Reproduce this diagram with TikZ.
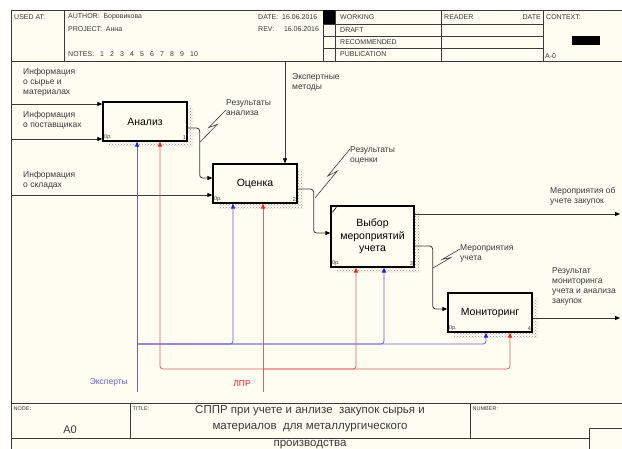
\documentclass[tikz,border=0pt]{standalone}
\usepackage{fontspec}
\setmainfont{Liberation Sans}
\usetikzlibrary{arrows.meta,calc,patterns,shadows}

\definecolor{paper}{HTML}{FFFCF2}
\definecolor{ink}{HTML}{3A3A3A}
\definecolor{expline}{HTML}{6565CF}
\definecolor{exptip}{HTML}{1E1EE6}
\definecolor{lprline}{HTML}{D86464}
\definecolor{lprtip}{HTML}{F01E1E}

\tikzset{
  proc/.style={draw=black, line width=1.3pt, fill=paper, align=center,
    minimum width=84pt, minimum height=39pt, inner sep=1pt,
    font=\fontsize{10.5}{12.5}\selectfont,
    general shadow={pattern=crosshatch dots, pattern color=gray!80,
      shadow xshift=6pt, shadow yshift=-6pt}},
  flow/.style={draw=ink, line width=0.8pt, rounded corners=3pt,
    -{Triangle[length=5pt,width=4pt,color=black]}},
  eflow/.style={flow, draw=expline, -{Triangle[length=5pt,width=4pt,color=exptip]}},
  dflow/.style={flow, draw=lprline, -{Triangle[length=5pt,width=4pt,color=lprtip]}},
  zig/.style={draw=ink, line width=0.6pt,
    to path={-- ($(\tikztostart)!0.55!(\tikztotarget)+(3,0)$)
             -- ($(\tikztostart)!0.45!(\tikztotarget)-(3,0)$)
             -- (\tikztotarget)}},
  lbl/.style={anchor=north west, inner sep=0pt, align=left, text=ink,
    font=\fontsize{8.5}{10}\selectfont},
  hdr/.style={anchor=west, inner sep=0pt, text=ink, font=\fontsize{7}{8}\selectfont},
  tiny/.style={inner sep=1.5pt, text=ink, font=\fontsize{5.5}{6}\selectfont},
  frame/.style={draw=ink, line width=0.8pt}
}

\begin{document}
\begin{tikzpicture}[x=1pt,y=-1pt]
\useasboundingbox (0,0) rectangle (622,449);
\fill[white] (0,0) rectangle (622,449);
\fill[paper] (11,10) rectangle (622,449);

% header
\draw[frame] (622,10) -- (11,10) -- (11,449);
\draw[frame] (11,61) -- (622,61);
\foreach \xx in {64,323,335,441,543} \draw[frame] (\xx,10) -- (\xx,61);
\foreach \yy in {24,36,48} \draw[frame] (323,\yy) -- (543,\yy);
\fill[black] (323,10) rectangle (335,24);
\fill[black] (572,36) rectangle (600,45);
\node[hdr] (usedat) at (14,17) {USED AT:};
\node[hdr] (author) at (68,17) {AUTHOR:\ \ Боровикова};
\node[hdr] (project) at (68,29) {PROJECT:\ \ Анна};
\node[hdr] (notes) at (68,54) {NOTES:};
\foreach \n in {1,...,10} \node[hdr] (note\n) at (90+10*\n,54) {\n};
\node[hdr] (date) at (258,17) {DATE:\ \ 16.06.2016};
\node[hdr] (rev) at (258,29) {REV:\ \ \ \ \ 16.06.2016};
\node[hdr] (working) at (340,17) {WORKING};
\node[hdr] (draft) at (340,30) {DRAFT};
\node[hdr] (recom) at (340,42) {RECOMMENDED};
\node[hdr] (public) at (340,54) {PUBLICATION};
\node[hdr] (reader) at (444,17) {READER};
\node[hdr, anchor=east] (rdate) at (541,17) {DATE};
\node[hdr] (context) at (546,17) {CONTEXT:};
\node[hdr] (ctxnode) at (545,56) {A-0};

% footer
\draw[frame] (11,403) -- (622,403);
\draw[frame] (11,438) -- (589,438);
\draw[frame] (130,403) -- (130,438);
\draw[frame] (470,403) -- (470,438);
\draw[frame] (589,449) -- (589,428) -- (622,428);
\node[tiny, anchor=west] (nodelbl) at (12,409) {NODE:};
\node[text=ink, font=\fontsize{11}{12}\selectfont] (nodeno) at (70,430) {A0};
\node[tiny, anchor=west] (titlelbl) at (131,409) {TITLE:};
\node[tiny, anchor=west] (numlbl) at (471,409) {NUMBER:};
\node[text=ink, align=center, font=\fontsize{11.5}{16.5}\selectfont, anchor=north, inner sep=0pt] (title) at (310,405)
  {СППР при учете и анлизе\ \ закупок сырья и\\материалов\ \ для металлургического\\производства};

% activities
\node[proc] (anal) at (145,121.5) {Анализ};
\node[proc] (oc) at (255,183.5) {Оценка};
\node[proc, minimum width=83pt, minimum height=61pt] (vyb) at (372.5,236.5) {Выбор\\мероприятий\\учета};
\node[proc] (mon) at (490,312.5) {Мониторинг};
\foreach \b/\k in {anal/1,oc/2,vyb/3,mon/4} {
  \node[tiny, anchor=south west] (\b op) at (\b.south west) {0р.};
  \node[tiny, anchor=south east] (\b no) at (\b.south east) {\k};
}
\draw[line width=0.6pt] ([shift={(2pt,-7pt)}]vyb.north west) -- ([shift={(6pt,-2pt)}]vyb.north west);

% inputs and control
\coordinate (in1) at (11,104);
\coordinate (in2) at (11,139);
\coordinate (in3) at (11,195);
\coordinate (ctl) at (285,62);
\draw[flow] (in1) -- (in1 -| anal.west);
\draw[flow] (in2) -- (in2 -| anal.west);
\draw[flow] (in3) -- (in3 -| oc.west);
\draw[flow] (ctl) -- (ctl |- oc.north);

% outputs
\coordinate (out1) at (620,214);
\coordinate (out2) at (620,318);
\draw[flow] ([yshift=-6.5pt]anal.east) -- ++(12,0) |- ([yshift=5.5pt]oc.west);
\draw[flow] ([yshift=-5.5pt]oc.east) -- ++(16,0) |- ([yshift=3.5pt]vyb.west);
\draw[flow] (out1 -| vyb.east) -- (out1);
\draw[flow] ([yshift=-9.5pt]vyb.east) -- ++(18,0) |- ([yshift=3.5pt]mon.west);
\draw[flow] (out2 -| mon.east) -- (out2);

% mechanisms
\coordinate (exp) at (137,392);
\coordinate (jexp) at (137,344);
\draw[eflow] (exp) -- (exp |- anal.south);
\draw[eflow] (jexp) -| ([xshift=-22pt]oc.south);
\draw[eflow] (jexp) -| ([xshift=11.5pt]vyb.south);
\draw[eflow] (jexp) -| ([xshift=-4pt]mon.south);
\coordinate (lpr) at (263,392);
\coordinate (jlpr) at (263,369);
\draw[dflow] (lpr) -- (lpr |- oc.south);
\draw[dflow] (jlpr) -| ([xshift=15pt]anal.south);
\draw[dflow] (jlpr) -| ([xshift=-16.5pt]vyb.south);
\draw[dflow] (jlpr) -| ([xshift=20pt]mon.south);

% labels
\node[lbl] (tin1) at (23,68.5) {Информация\\о сырье и\\материалах};
\node[lbl] (tin2) at (23,111.5) {Информация\\о поставщиках};
\node[lbl] (tin3) at (23,171.5) {Информация\\о складах};
\node[lbl] (tctl) at (292,73.5) {Экспертные\\методы};
\node[lbl] (tra) at (226,99) {Результаты\\анализа};
\node[lbl] (tro) at (350,146.5) {Результаты\\оценки};
\node[lbl] (tmu) at (460,244.5) {Мероприятия\\учета};
\node[lbl] (tout1) at (550,187.5) {Мероприятия об\\учете закупок};
\node[lbl] (tout2) at (552,267.5) {Результат\\мониторинга\\учета и анализа\\закупок};
\node[lbl, anchor=east, text=expline] (texp) at (128,382) {Эксперты};
\node[lbl, anchor=center, text=lprtip] (tlpr) at (242,384) {ЛПР};

\draw[zig] (200,142) to (tra.west |- 0,110);
\draw[zig] (315,198) to (tro.west |- 0,149);
\draw[zig] (433,268) to (tmu.west |- 0,249);
\end{tikzpicture}
\end{document}
